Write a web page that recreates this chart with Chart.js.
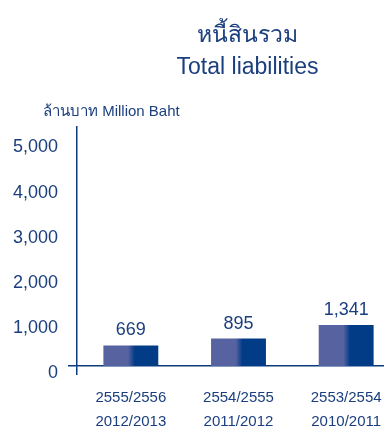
<!DOCTYPE html>
<html>
<head>
<meta charset="utf-8">
<script src="https://cdn.jsdelivr.net/npm/chart.js@4/dist/chart.umd.min.js"></script>
<style>
html, body { margin: 0; padding: 0; background: #fff; overflow: hidden; }
#wrap { position: relative; width: 384px; height: 428px; overflow: hidden; font-family: "Liberation Sans", Arial, sans-serif; color: #1b3f7e; }
#inner { position: absolute; left: 0; top: 0; width: 400px; height: 428px; }
.txt { position: absolute; white-space: nowrap; }
#t1 { left: 0; width: 495px; text-align: center; top: 23px; font-size: 23px; line-height: 23px; }
#t2 { left: 0; width: 495px; text-align: center; top: 55px; font-size: 23px; line-height: 23px; }
#unit { left: 43px; top: 103px; font-size: 15px; line-height: 15px; }
</style>
</head>
<body>
<div id="wrap">
  <div id="inner"><canvas id="myChart" width="400" height="428"></canvas></div>
  <div class="txt" id="t1">หนี้สินรวม</div>
  <div class="txt" id="t2">Total liabilities</div>
  <div class="txt" id="unit">ล้านบาท Million Baht</div>
</div>
<script>
var periodsBE = ["2555/2556", "2554/2555", "2553/2554"];
var periodsCE = ["2012/2013", "2011/2012", "2010/2011"];
var liabilities = [669, 895, 1341];
var yTicks = [0, 1000, 2000, 3000, 4000, 5000];

var navy = "#0b3a80";
var textBlue = "#1b3f7e";
var lightBar = "#5663a0";
var darkBar = "#023c87";
var barPct = 0.51;

var labels = [];
for (var i = 0; i < periodsBE.length; i++)
	labels.push([periodsBE[i], periodsCE[i]]);

function barFill(ctx){
	var chart = ctx.chart;
	var xs = chart.scales.x;
	if (!xs || ctx.dataIndex === undefined) return darkBar;
	var cx = xs.getPixelForValue(ctx.dataIndex);
	var w = xs.width / labels.length * barPct;
	if (!isFinite(cx) || !isFinite(w) || w <= 0) return darkBar;
	var g = chart.ctx.createLinearGradient(cx - w / 2, 0, cx + w / 2, 0);
	g.addColorStop(0, lightBar);
	g.addColorStop(0.45, lightBar);
	g.addColorStop(0.57, darkBar);
	g.addColorStop(1, darkBar);
	return g;
}

var valueLabels = {
	id: "valueLabels",
	afterDatasetsDraw: function(chart){
		var c = chart.ctx;
		var meta = chart.getDatasetMeta(0);
		c.save();
		c.font = "18px 'Liberation Sans', Arial, sans-serif";
		c.fillStyle = textBlue;
		c.textAlign = "center";
		c.textBaseline = "middle";
		meta.data.forEach(function(el, i){
			c.fillText(liabilities[i].toLocaleString("en-US"), el.x, el.y - 15);
		});
		c.restore();
	}
};

var ctx = document.getElementById("myChart");
var mChart = new Chart(ctx, {
	type: "bar",
	data: {
		labels: labels,
		datasets: [{
			data: liabilities,
			yAxisID: "yb",
			backgroundColor: barFill,
			borderWidth: 0,
			barPercentage: barPct,
			categoryPercentage: 1
		}]
	},
	options: {
		responsive: false,
		devicePixelRatio: 1,
		animation: false,
		layout: { padding: { top: 127, left: 0, right: 0, bottom: 0 } },
		plugins: {
			legend: { display: false },
			tooltip: { enabled: false }
		},
		scales: {
			x: {
				afterFit: function(s){ s.height = 62; },
				border: { display: true, color: navy, width: 1.5 },
				grid: {
					drawOnChartArea: false,
					drawTicks: true,
					tickLength: 9,
					lineWidth: 1.5,
					color: function(c){ return c.index === 0 ? navy : "rgba(0,0,0,0)"; }
				},
				ticks: {
					color: textBlue,
					padding: 11,
					font: { family: "'Liberation Sans', Arial, sans-serif", size: 15, lineHeight: 1.58 }
				}
			},
			y: {
				min: 0,
				max: 5300,
				afterFit: function(s){ s.width = 77; },
				afterBuildTicks: function(s){
					s.ticks = yTicks.map(function(v){ return { value: v }; });
				},
				border: { display: true, color: navy, width: 1.5 },
				grid: {
					drawOnChartArea: false,
					drawTicks: true,
					tickLength: 9,
					lineWidth: 1.5,
					color: function(c){ return c.tick && c.tick.value === 0 ? navy : "rgba(0,0,0,0)"; }
				},
				ticks: {
					color: textBlue,
					padding: 10,
					labelOffset: 7,
					font: { family: "'Liberation Sans', Arial, sans-serif", size: 18 },
					callback: function(v){ return Number(v).toLocaleString("en-US"); }
				}
			},
			yb: {
				display: false,
				min: 0,
				max: 7800
			}
		}
	},
	plugins: [valueLabels]
});
</script>
</body>
</html>
